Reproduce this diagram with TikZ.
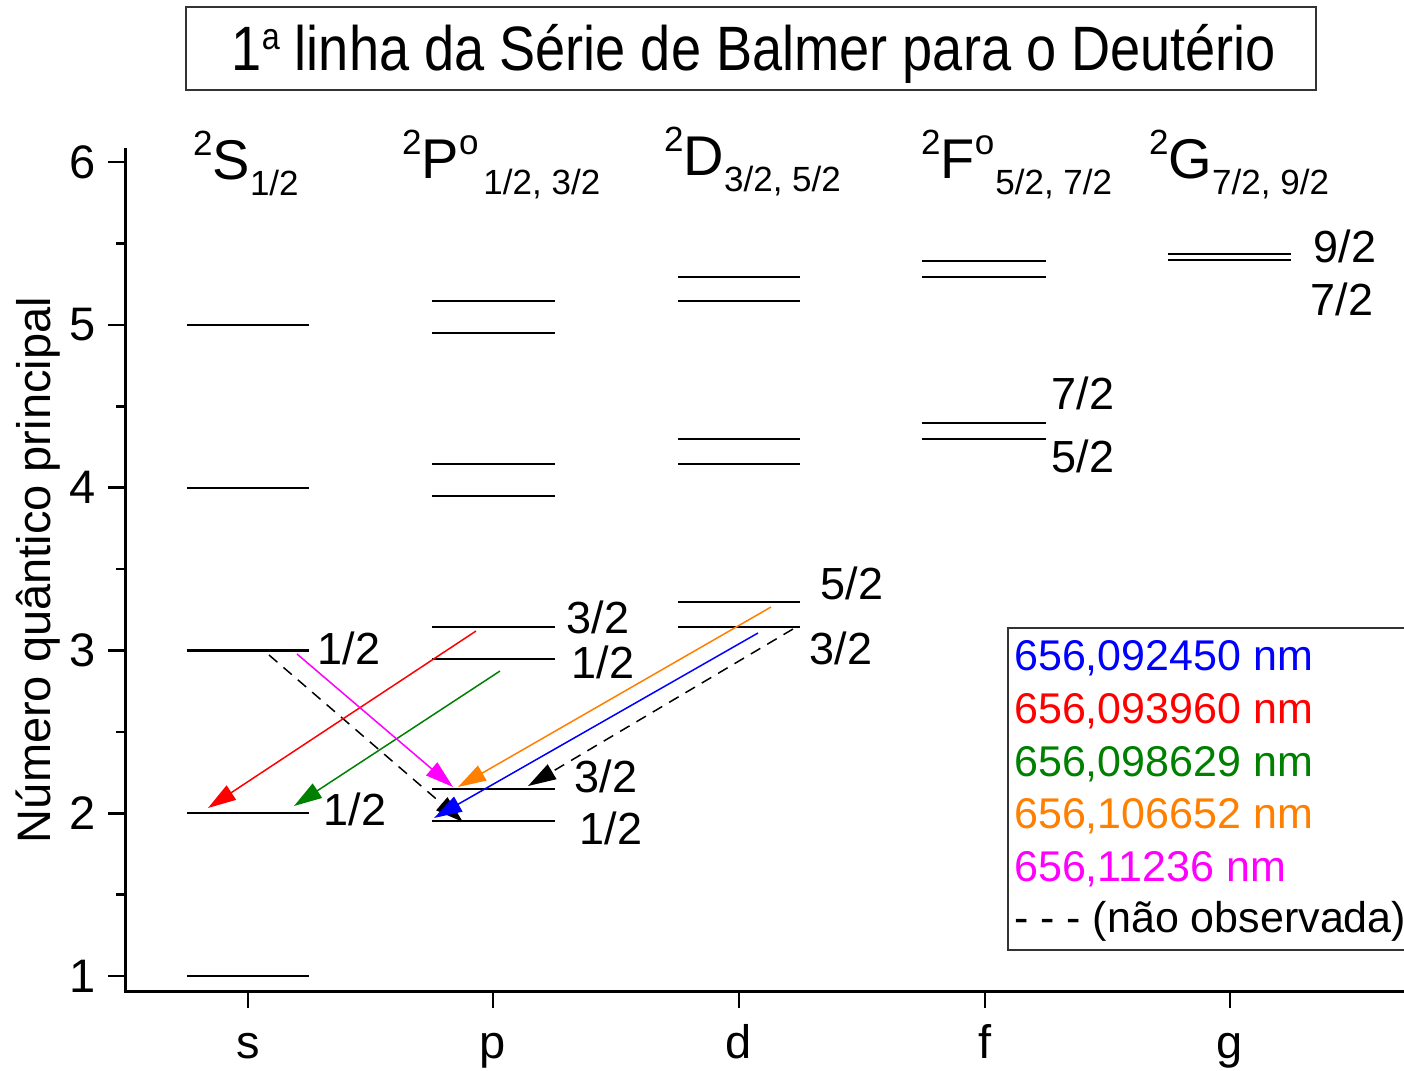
\documentclass[tikz,border=0pt]{standalone}
\usepackage{fontspec}
\setmainfont{Liberation Sans}
\usetikzlibrary{arrows.meta}
\definecolor{cblue}{RGB}{0,0,255}
\definecolor{cred}{RGB}{255,0,0}
\definecolor{cgreen}{RGB}{0,128,0}
\definecolor{corange}{RGB}{255,128,0}
\definecolor{cmag}{RGB}{255,0,255}
\newcommand{\termsym}[4]{{\fontsize{35}{37}\selectfont\raisebox{24pt}{#1}}{\fontsize{56}{60}\selectfont #2}{\fontsize{35}{37}\selectfont\raisebox{24pt}{#3}\raisebox{-16pt}{#4}}}
\begin{document}
\begin{tikzpicture}[x=1pt,y=-1pt,
  lvl/.style={line width=2.9pt},
  axisline/.style={line width=3pt},
  tickline/.style={line width=2.6pt},
  trans/.style={line width=1.5pt,-{Triangle[length=28pt,width=17pt]}},
  notobs/.style={trans,black,dash pattern=on 11pt off 8pt},
  lbl/.style={inner sep=0pt,font=\fontsize{45}{48}\selectfont},
  leg/.style={inner sep=0pt,anchor=west,font=\fontsize{43}{46}\selectfont},
  hdrnode/.style={inner sep=0pt,anchor=base west}
]
\useasboundingbox (0,0) rectangle (1404,1070);
\fill[white] (0,0) rectangle (1404,1070);

% title
\draw[line width=1.3pt,black!80] (186,7) rectangle (1316,90);
\node[inner sep=0pt,xscale=0.95,yscale=1.1,font=\fontsize{57}{60}\selectfont] (title) at (754,54) {1\raisebox{19pt}{\fontsize{34}{36}\selectfont a} linha da Série de Balmer para o Deutério};

% axes
\draw[axisline] (125,148) -- (125,991) -- (1404,991);
\foreach \n in {1,...,6}{
  \pgfmathsetmacro{\yy}{976-(\n-1)*162.8}
  \draw[tickline] (108,\yy) -- (125,\yy);
  \node[lbl,anchor=east,font=\fontsize{47}{50}\selectfont] (ytl\n) at (96,\yy) {\n};
}
\foreach \n in {1.5,2.5,3.5,4.5,5.5}{
  \pgfmathsetmacro{\yy}{976-(\n-1)*162.8}
  \draw[tickline] (116,\yy) -- (125,\yy);
}
\foreach \x/\t in {248/s,493/p,739/d,985/f,1230/g}{
  \draw[tickline] (\x,991) -- (\x,1008);
  \node[lbl,anchor=base,font=\fontsize{47}{50}\selectfont] (xtl\t) at (\x,1058) {\t};
}
\node[lbl,rotate=90,font=\fontsize{47}{50}\selectfont] (ylabel) at (38,570) {Número quântico principal};

% headers
\node[hdrnode] (hS) at (193,179) {\termsym{2}{S}{}{1/2}};
\node[hdrnode] (hP) at (402,178) {\termsym{2}{P}{o}{\hspace{5pt}1/2, 3/2}};
\node[hdrnode] (hD) at (664,175) {\termsym{2}{D}{}{3/2, 5/2}};
\node[hdrnode] (hF) at (921,178) {\termsym{2}{F}{o}{\hspace{1pt}5/2, 7/2}};
\node[hdrnode] (hG) at (1149,178) {\termsym{2}{G}{}{7/2, 9/2}};

% s levels
\foreach \n in {1,...,5}{
  \pgfmathsetmacro{\yy}{976-(\n-1)*162.8}
  \draw[line width=2.2pt] (187,\yy) -- (309,\yy);
}
% p levels
\foreach \yy in {301,333,464,496,627,659,789,821}{
  \draw[lvl] (432,\yy) -- (555,\yy);
}
% d levels
\foreach \yy in {277,301,439,464,602,627}{
  \draw[lvl] (678,\yy) -- (800,\yy);
}
% f levels
\foreach \yy in {261,277,423,439}{
  \draw[lvl] (922,\yy) -- (1046,\yy);
}
% g levels
\foreach \yy in {254,260}{
  \draw[lvl] (1168,\yy) -- (1291,\yy);
}

% level labels
\node[lbl] (ls3) at (349,648) {1/2};
\node[lbl] (ls2) at (355,809) {1/2};
\node[lbl] (lp3a) at (598,617) {3/2};
\node[lbl] (lp3b) at (603,662) {1/2};
\node[lbl] (lp2a) at (606,776) {3/2};
\node[lbl] (lp2b) at (611,828) {1/2};
\node[lbl] (ld3a) at (852,583) {5/2};
\node[lbl] (ld3b) at (841,648) {3/2};
\node[lbl] (lf4a) at (1083,393) {7/2};
\node[lbl] (lf4b) at (1083,456) {5/2};
\node[lbl] (lg5a) at (1345,246) {9/2};
\node[lbl] (lg5b) at (1342,299) {7/2};

% transition endpoints
\coordinate (redS) at (476,631);   \coordinate (redE) at (208,808);
\coordinate (grnS) at (500,671);   \coordinate (grnE) at (294,806);
\coordinate (magS) at (297,654);   \coordinate (magE) at (453,787);
\coordinate (dshAS) at (269,655);  \coordinate (dshAE) at (463,822);
\coordinate (orgS) at (771,607);   \coordinate (orgE) at (458,787);
\coordinate (bluS) at (758,633);   \coordinate (bluE) at (434,818);
\coordinate (dshBS) at (793,629);  \coordinate (dshBE) at (528,786);

\draw[notobs] (dshAS) -- (dshAE);
\draw[notobs] (dshBS) -- (dshBE);
\draw[trans,cred] (redS) -- (redE);
\draw[trans,cgreen] (grnS) -- (grnE);
\draw[trans,cmag] (magS) -- (magE);
\draw[trans,corange] (orgS) -- (orgE);
\draw[trans,cblue] (bluS) -- (bluE);

% legend
\draw[line width=1.2pt,black!80] (1404,628) -- (1008,628) -- (1008,950) -- (1404,950);
\node[leg,text=cblue] (leg1) at (1014,658) {656,092450 nm};
\node[leg,text=cred] (leg2) at (1014,711) {656,093960 nm};
\node[leg,text=cgreen] (leg3) at (1014,764) {656,098629 nm};
\node[leg,text=corange] (leg4) at (1014,816) {656,106652 nm};
\node[leg,text=cmag] (leg5) at (1014,869) {656,11236 nm};
\node[leg,text=black] (leg6) at (1014,921) {- - - (não observada)};
\end{tikzpicture}
\end{document}
